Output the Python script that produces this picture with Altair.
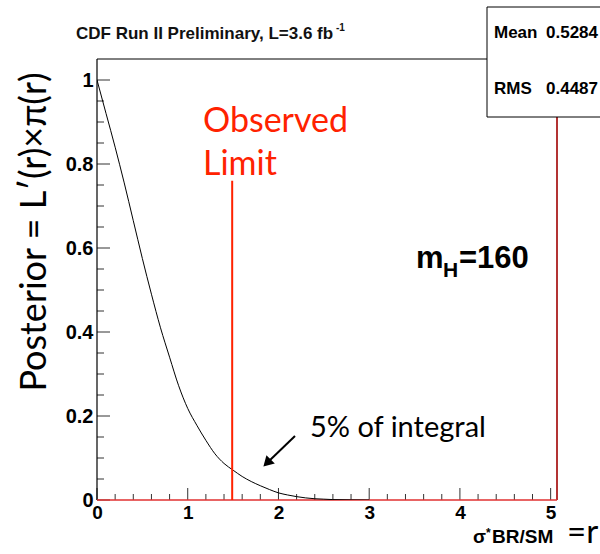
import altair as alt
import pandas as pd

# ---- data ----
R = [0.0, 0.1, 0.2, 0.3, 0.4, 0.5, 0.6, 0.7, 0.8, 0.9, 1.0, 1.1, 1.2, 1.3, 1.4,
     1.5, 1.6, 1.7, 1.8, 1.9, 2.0, 2.1, 2.2, 2.3, 2.4, 2.5, 2.6, 2.8, 3.0]
POSTERIOR = [1.00, 0.92, 0.84, 0.755, 0.665, 0.575, 0.49, 0.41, 0.34, 0.272, 0.218,
             0.178, 0.142, 0.11, 0.087, 0.071, 0.056, 0.044, 0.034, 0.025, 0.017,
             0.012, 0.008, 0.005, 0.003, 0.002, 0.001, 0.0003, 0.0]
LIMIT_R = [1.49]
LIMIT_TOP = [0.76]
X_DOMAIN = [0, 5.07]
Y_DOMAIN = [0, 1.05]
Y_MAJOR = [0, 0.2, 0.4, 0.6, 0.8, 1.0]
Y_MINOR = [0.05, 0.1, 0.15, 0.25, 0.3, 0.35, 0.45, 0.5, 0.55, 0.65, 0.7, 0.75,
           0.85, 0.9, 0.95]
X_MAJOR = [0, 1, 2, 3, 4, 5]
X_MINOR = [0.2, 0.4, 0.6, 0.8, 1.2, 1.4, 1.6, 1.8, 2.2, 2.4, 2.6, 2.8, 3.2, 3.4,
           3.6, 3.8, 4.2, 4.4, 4.6, 4.8]
STAT_NAMES = ["Mean", "RMS"]
STAT_VALUES = ["0.5284", "0.4487"]

W, H = 460, 441
HELV = "Liberation Sans"
CALI = "Lato"
RED = "#ff2200"

xs = alt.Scale(domain=X_DOMAIN, nice=False, zero=False)
ys = alt.Scale(domain=Y_DOMAIN, nice=False, zero=False)
XAX = alt.Axis(values=X_MAJOR, format="~g", ticks=False, domain=False, grid=False,
               labelFont=HELV, labelFontWeight="bold", labelFontSize=19,
               labelColor="black", labelPadding=3, labelFlush=False,
               labelOverlap=False, title=None)
YAX = alt.Axis(values=Y_MAJOR, format="~g", ticks=False, domain=False, grid=False,
               labelFont=HELV, labelFontWeight="bold", labelFontSize=20,
               labelColor="black", labelPadding=4, labelFlush=False,
               labelOverlap=False, title=None)

DUMMY = pd.DataFrame({"d": [0]})


def txt(s, x, y, size, font=HELV, weight="normal", color="black", align="left",
        angle=None, baseline="alphabetic"):
    kw = dict(text=s, font=font, fontSize=size, fontWeight=weight, color=color,
              align=align, baseline=baseline)
    if angle is not None:
        kw["angle"] = angle
    return alt.Chart(DUMMY).mark_text(**kw).encode(x=alt.value(x), y=alt.value(y))


def prule(x, y, x2, y2, color="black", width=1.0):
    return alt.Chart(DUMMY).mark_rule(color=color, strokeWidth=width).encode(
        x=alt.value(x), y=alt.value(y), x2=alt.value(x2), y2=alt.value(y2))


curve = alt.Chart(pd.DataFrame({"r": R, "p": POSTERIOR})).mark_line(
    color="black", strokeWidth=1, interpolate="monotone", clip=True
).encode(x=alt.X("r:Q", scale=xs, axis=XAX), y=alt.Y("p:Q", scale=ys, axis=YAX))

ymaj = alt.Chart(pd.DataFrame({"v": Y_MAJOR})).mark_rule(color="#333", strokeWidth=1).encode(
    y=alt.Y("v:Q", scale=ys, axis=YAX), x=alt.value(0), x2=alt.value(13))
ymin = alt.Chart(pd.DataFrame({"v": Y_MINOR})).mark_rule(color="#333", strokeWidth=1).encode(
    y=alt.Y("v:Q", scale=ys, axis=YAX), x=alt.value(0), x2=alt.value(7))
xmaj = alt.Chart(pd.DataFrame({"v": X_MAJOR})).mark_rule(color="#333", strokeWidth=1).encode(
    x=alt.X("v:Q", scale=xs, axis=XAX), y=alt.value(H), y2=alt.value(H - 12))
xmin = alt.Chart(pd.DataFrame({"v": X_MINOR})).mark_rule(color="#333", strokeWidth=1).encode(
    x=alt.X("v:Q", scale=xs, axis=XAX), y=alt.value(H), y2=alt.value(H - 6))

limit = alt.Chart(pd.DataFrame({"r": LIMIT_R, "y0": [0], "y1": LIMIT_TOP})).mark_rule(
    color=RED, strokeWidth=2).encode(
    x=alt.X("r:Q", scale=xs, axis=XAX), y=alt.Y("y0:Q", scale=ys, axis=YAX), y2="y1:Q")

frame = [
    prule(0, 0, 0, H, "black", 1.2),
    prule(0, 0, W, 0, "black", 1.0),
    prule(W, 0, W, H, "#a00000", 1.6),
    prule(0, H, W, H, "#e03030", 1.3),
]

statbox = alt.Chart(DUMMY).mark_rect(fill="white", stroke="black", strokeWidth=1).encode(
    x=alt.value(390), x2=alt.value(540), y=alt.value(-52), y2=alt.value(58))

stats = [
    txt(STAT_NAMES[0], 397, -21, 17, weight="bold"),
    txt(STAT_VALUES[0], 501, -21, 17, weight="bold", align="right"),
    txt(STAT_NAMES[1], 397, 35, 17, weight="bold"),
    txt(STAT_VALUES[1], 501, 35, 17, weight="bold", align="right"),
]

title = [
    txt("CDF Run II Preliminary, L=3.6 fb", -21, -20, 17, weight="bold", color="#111"),
    txt("-1", 239, -28, 10, weight="bold", color="#111"),
]

obs = [
    txt("Observed", 106, 73, 34, font=CALI, color=RED),
    txt("Limit", 106, 116, 34, font=CALI, color=RED),
]

mh = [
    txt("m", 319, 209, 31, weight="bold"),
    txt("H", 346, 218, 21, weight="bold"),
    txt("=160", 362, 209, 31, weight="bold"),
]

integral = [
    txt("5% of integral", 213, 378, 29, font=CALI),
    prule(198, 377, 171, 403, "black", 2),
    alt.Chart(DUMMY).mark_point(shape="triangle-up", filled=True, color="black",
                                opacity=1, size=140, angle=225).encode(
        x=alt.value(170), y=alt.value(404)),
]

ytitle = txt("Posterior = L\u2032(r)\u00d7\u03c0(r)", -62, 173, 36, font=CALI,
             align="center", angle=270, baseline="middle")

xtitle = [
    txt("\u03c3", 376, 484, 19, weight="bold"),
    txt("*", 389, 478, 12, weight="bold"),
    txt("BR/SM", 395, 484, 19, weight="bold"),
    txt("=r", 470, 484, 33, font=CALI),
]

chart = alt.layer(
    ymaj, ymin, xmaj, xmin, *frame, curve, limit, statbox, *stats, *title, *obs,
    *mh, *integral, ytitle, *xtitle
).properties(
    width=W, height=H,
    autosize=alt.AutoSizeParams(type="none"),
    padding={"left": 97, "top": 59, "right": 43, "bottom": 54},
).configure_view(stroke=None)

chart.save("out.html", embed_options={"renderer": "svg", "actions": False})
